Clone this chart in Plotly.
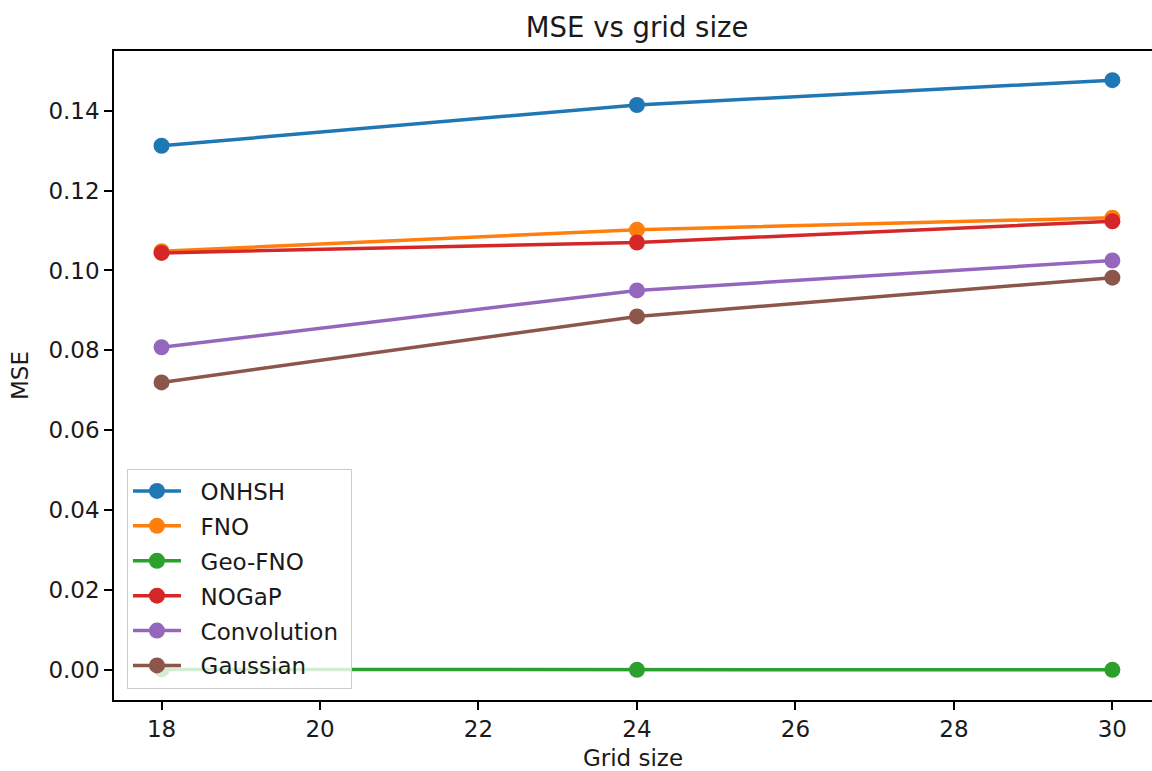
import plotly.graph_objects as go

grid_sizes = [18, 24, 30]
onhsh = [0.1312, 0.1414, 0.1476]
fno = [0.1048, 0.1102, 0.1132]
geo_fno = [0.0002, 0.0001, 0.0001]
nogap = [0.1044, 0.1070, 0.1123]
convolution = [0.0808, 0.0950, 0.1025]
gaussian = [0.0720, 0.0885, 0.0982]

series = [
    ("ONHSH", onhsh, "#1f77b4"),
    ("FNO", fno, "#ff7f0e"),
    ("Geo-FNO", geo_fno, "#2ca02c"),
    ("NOGaP", nogap, "#d62728"),
    ("Convolution", convolution, "#9467bd"),
    ("Gaussian", gaussian, "#8c564b"),
]

x_ticks = [18, 20, 22, 24, 26, 28, 30]
y_ticks = [0.00, 0.02, 0.04, 0.06, 0.08, 0.10, 0.12, 0.14]

FONT = "DejaVu Sans"
TEXT = "#1a1a1a"
PAD = "\u00a0\u00a0"

fig = go.Figure()
for name, vals, color in series:
    fig.add_trace(go.Scatter(
        x=grid_sizes, y=vals, name=PAD + name + "\u00a0", mode="lines+markers",
        line=dict(color=color, width=3.5),
        marker=dict(color=color, size=16),
        legendgroup=name,
    ))

fig.update_layout(
    width=1152, height=771,
    margin=dict(l=114, r=0, t=51, b=71),
    paper_bgcolor="white", plot_bgcolor="white",
    font=dict(family=FONT, size=23, color=TEXT),
    title=dict(text="MSE vs grid size", x=0.504, xref="paper", xanchor="center",
               y=1 - 27 / 771, yref="container", yanchor="middle",
               font=dict(family=FONT, size=27.5, color=TEXT)),
    showlegend=True,
    legend=dict(
        x=0.0125, y=0.0177, xanchor="left", yanchor="bottom",
        bgcolor="rgba(255,255,255,0.8)", bordercolor="#cccccc", borderwidth=1,
        font=dict(family=FONT, size=23, color=TEXT),
        tracegroupgap=2, itemwidth=48,
    ),
)

fig.update_xaxes(
    range=[17.4, 30.5], tickvals=x_ticks, ticktext=[str(v) for v in x_ticks],
    showgrid=False, zeroline=False,
    showline=True, linecolor="black", linewidth=1.5, mirror=True,
    ticks="outside", ticklen=8, tickwidth=1.5, tickcolor="black",
    title=dict(text="Grid size", standoff=14, font=dict(family=FONT, size=23, color=TEXT)),
)
fig.update_yaxes(
    range=[-0.00745, 0.1549], tickvals=y_ticks, ticktext=[f"{v:.2f}" for v in y_ticks],
    showgrid=False, zeroline=False,
    showline=True, linecolor="black", linewidth=1.5, mirror=False,
    ticks="outside", ticklen=8, tickwidth=1.5, tickcolor="black",
    title=dict(text="MSE", standoff=13, font=dict(family=FONT, size=23, color=TEXT)),
)

fig.write_html("out.html")
